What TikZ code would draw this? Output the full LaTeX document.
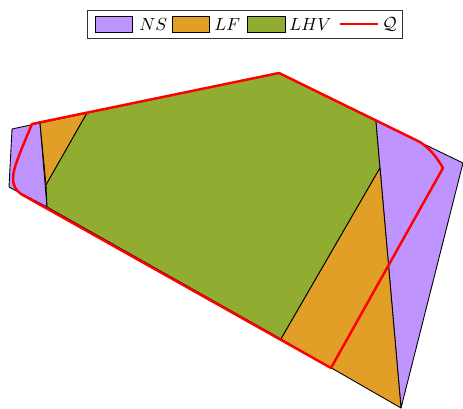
\documentclass[tikz,border=0pt]{standalone}
\usepackage{amsmath,amssymb}
\usepackage{tikz}
\definecolor{nspurp}{HTML}{BF94FF}
\definecolor{lforange}{HTML}{E19F27}
\definecolor{lhvgreen}{HTML}{90AC31}
\begin{document}
\begin{tikzpicture}[x=0.57pt,y=-0.57pt,
  region/.style={draw=black,line width=0.5pt,line join=round},
  swatch/.style={draw=black,line width=0.5pt,minimum width=21.5pt,minimum height=9.5pt,inner sep=0pt}]
  \useasboundingbox (0,0) rectangle (463,409);
  % regions
  \filldraw[region,fill=nspurp] (12,129)--(40,123)--(47,207)--(9,187)--cycle;
  \filldraw[region,fill=lforange] (40,123)--(87,113)--(46,185)--cycle;
  \filldraw[region,fill=lhvgreen] (87,113)--(279,73)--(376,121)--(380,168)--(281,339)--(47,207)--(46,185)--cycle;
  \filldraw[region,fill=nspurp] (376,121)--(463,163)--(401,408)--(380,168)--cycle;
  \filldraw[region,fill=lforange] (380,168)--(401,408)--(281,339)--cycle;
  % boundary Q
  \draw[red,line width=1.4pt,line join=round] (331,368)--(443,168)
    .. controls (436,156) and (430,149) .. (420,142)--(279,73)--(32,124)
    .. controls (22,148) and (13,168) .. (13,178)
    .. controls (13,186) and (16,190) .. (21,194)--cycle;
  % legend
  \node[draw=black!80,line width=0.5pt,fill=white,minimum width=179.5pt,minimum height=16pt] (legbox) at (244.5,24) {};
  \node[swatch,fill=nspurp] (swns) at (114,24.5) {};
  \node[anchor=west,inner sep=0pt] (txtns) at (139,24.5) {$NS$};
  \node[swatch,fill=lforange] (swlf) at (191,24.5) {};
  \node[anchor=west,inner sep=0pt] (txtlf) at (214,24.5) {$LF$};
  \node[swatch,fill=lhvgreen] (swlhv) at (266.5,24.5) {};
  \node[anchor=west,inner sep=0pt] (txtlhv) at (289,24.5) {$LHV$};
  \coordinate (qa) at (340,24);
  \coordinate (qb) at (378,24);
  \draw[red,line width=1.4pt] (qa)--(qb);
  \node[anchor=west,inner sep=0pt] (txtq) at (382,24.5) {$\mathcal{Q}$};
\end{tikzpicture}
\end{document}
